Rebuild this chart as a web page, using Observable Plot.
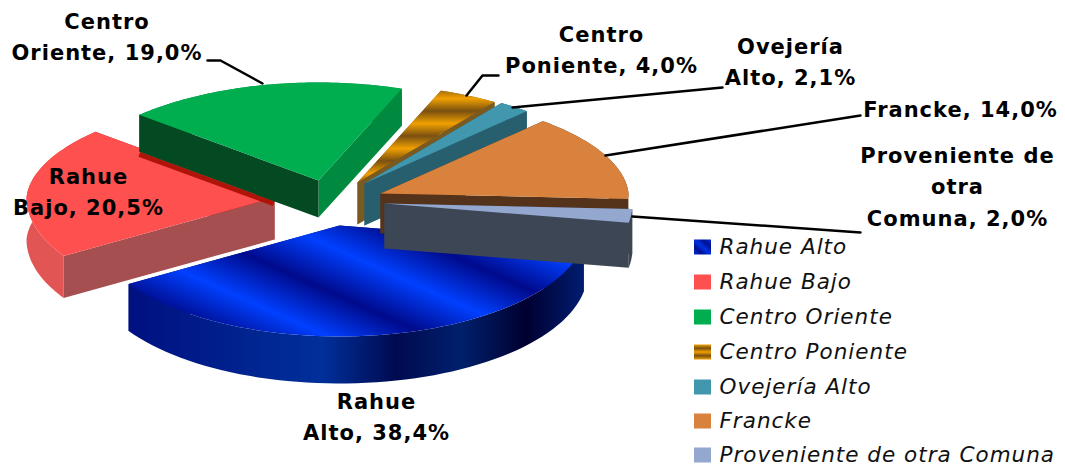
<!DOCTYPE html>
<html lang="es">
<head>
<meta charset="utf-8">
<script src="https://cdn.jsdelivr.net/npm/d3@7"></script>
<script src="https://cdn.jsdelivr.net/npm/@observablehq/plot@0.6"></script>
<style>html,body{margin:0;padding:0;background:#fff}svg{display:block}g[aria-label="text"]{letter-spacing:1px}</style>
</head>
<body>
<div id="chart"></div>
<script>
const sectores = ["Rahue Alto","Rahue Bajo","Centro Oriente","Centro Poniente","Ovejería Alto","Francke","Proveniente de otra Comuna"];
const valores = [38.4,20.5,19.0,4.0,2.1,14.0,2.0];
const colorTapa = ["url(#azulTapa)","#ff5050","#00ae50","url(#oroTapa)","#4097ae","#d9823e","#93a7cf"];
const colorBorde = ["url(#azulLado)","#e25555","#008a3f","#7a5a20","#285f6e","#55321a","#3d4654"];
const colorInicio = ["#001a80","#a54f50","#034a22","#7a5a20","#285f6e","#55321a","#3d4654"];
const colorFin = ["#001a80","#b01408","#008a3f","#7a5a20","#285f6e","#55321a","#3d4654"];
const leyendaColor = ["url(#azulLey)","#ff5050","#00ae50","url(#oroLey)","#4097ae","#d9823e","#93a7cf"];
const apiceX = [0,-65,-21,18,25,41,45];
const apiceY = [0,-28,-45,-43,-42,-32,-22];
const grosor = [47,42,37,42,42,40,45];
const etiquetas = ["Rahue\nAlto, 38,4%","Rahue\nBajo, 20,5%","Centro\nOriente, 19,0%","Centro\nPoniente, 4,0%","Ovejería\nAlto, 2,1%","Francke, 14,0%","Proveniente de\notra\nComuna, 2,0%"];
const etiquetaX = [37,-251,-232.5,262,451,621,618];
const etiquetaY = [189,-36,-190.5,-177.5,-166,-118,-41];
const guiaX = [[],[],[-132,-119,-77],[159,143,127],[173,383],[266,521],[293,521]];
const guiaY = [[],[],[-165,-165,-142],[-150,-150,-130],[-118,-138],[-70,-110],[-9,7]];
const leyendaY = [22,57,92,127,162,196,230];

const inicioGrados = 100;
const radio = (phi) => {
  const c = Math.cos(phi), s = Math.sin(phi);
  return [(248 - 10 * Math.max(0, c)) * s, -(c > 0 ? 98 : 111) * c];
};
const rad = Math.PI / 180;
const acum = d3.cumsum(valores);
const poligonos = [];
sectores.forEach((nombre, i) => {
  const a0 = (inicioGrados + (i ? acum[i - 1] : 0) * 3.6) * rad;
  const a1 = (inicioGrados + acum[i] * 3.6) * rad;
  const ax = apiceX[i], ay = apiceY[i], d = grosor[i];
  const arco = d3.range(0, 61).map((k) => {
    const [x, y] = radio(a0 + (a1 - a0) * k / 60);
    return {x: ax + x, y: ay + y};
  });
  const baja = (p) => ({x: p.x, y: p.y + d});
  const c = {x: ax, y: ay};
  const p0 = arco[0], p1 = arco[60];
  const paredes = [
    {fill: colorBorde[i], pts: [...arco, ...arco.map(baja).reverse()]},
    {fill: colorInicio[i], pts: [c, p0, baja(p0), baja(c)]},
    {fill: colorFin[i], pts: [c, p1, baja(p1), baja(c)]}
  ];
  paredes.sort((a, b) => d3.mean(a.pts, (p) => p.y) - d3.mean(b.pts, (p) => p.y));
  if (i === 2) {
    // sombra sobre Rahue Bajo, al pie de la cara izquierda de Centro Oriente
    const a = baja(p0), b = baja(c), t = 0.75;
    poligonos.push({sombra: true, pts: [
      {x: a.x, y: a.y + 2.5},
      {x: a.x + (b.x - a.x) * t, y: a.y + (b.y - a.y) * t + 2.5}
    ]});
  }
  paredes.forEach((w) => poligonos.push(w));
  poligonos.push({fill: colorTapa[i], pts: [c, ...arco]});
});

const defs = () => {
  const g = document.createElementNS("http://www.w3.org/2000/svg", "g");
  g.innerHTML = `<defs>
  <linearGradient id="azulTapa" gradientUnits="userSpaceOnUse" x1="200" y1="279" x2="234" y2="203" spreadMethod="repeat">
    <stop offset="0" stop-color="#0040ff"/><stop offset=".5" stop-color="#000a8c"/><stop offset="1" stop-color="#0040ff"/></linearGradient>
  <linearGradient id="azulLado" gradientUnits="userSpaceOnUse" x1="127" y1="0" x2="590" y2="0">
    <stop offset="0" stop-color="#001080"/><stop offset=".42" stop-color="#00309a"/><stop offset=".58" stop-color="#000a50"/>
    <stop offset=".72" stop-color="#00206c"/><stop offset=".86" stop-color="#000030"/><stop offset="1" stop-color="#002078"/></linearGradient>
  <linearGradient id="oroTapa" gradientUnits="userSpaceOnUse" x1="0" y1="98" x2="0" y2="123" spreadMethod="repeat">
    <stop offset="0" stop-color="#f0a000"/><stop offset=".5" stop-color="#7a5010"/><stop offset="1" stop-color="#f0a000"/></linearGradient>
  <linearGradient id="azulLey" x1="0" y1="1" x2="1" y2="0" spreadMethod="repeat">
    <stop offset="0" stop-color="#0030e0"/><stop offset=".25" stop-color="#001090"/><stop offset=".5" stop-color="#0030e0"/><stop offset=".75" stop-color="#001090"/><stop offset="1" stop-color="#0030e0"/></linearGradient>
  <linearGradient id="oroLey" x1="0" y1="0" x2="0" y2="1">
    <stop offset="0" stop-color="#f0a000"/><stop offset=".25" stop-color="#7a5010"/><stop offset=".5" stop-color="#f0a000"/><stop offset=".75" stop-color="#7a5010"/><stop offset="1" stop-color="#f0a000"/></linearGradient>
  </defs>`;
  return g;
};

const marcas = [defs];
const sombras = poligonos.filter((p) => p.sombra);
poligonos.filter((p) => !p.sombra).forEach((p) => {
  marcas.push(Plot.line(p.pts, {x: "x", y: "y", fill: p.fill, stroke: "none"}));
});
// la sombra va entre Rahue Bajo y la cara de Centro Oriente
const idxCaraOriente = 1 + 4 + 4;
sombras.forEach((p) => {
  marcas.splice(idxCaraOriente, 0, Plot.line(p.pts, {x: "x", y: "y", stroke: "#b01408", strokeWidth: 5, strokeLinecap: "butt"}));
});
guiaX.forEach((xs, i) => {
  if (!xs.length) return;
  const pts = xs.map((x, k) => ({x, y: guiaY[i][k]}));
  marcas.push(Plot.line(pts, {x: "x", y: "y", stroke: "#000", strokeWidth: 2.5}));
});
const fuente = "DejaVu Sans";
marcas.push(Plot.text(etiquetas, {
  x: (d, i) => etiquetaX[i], y: (d, i) => etiquetaY[i], text: (d) => d,
  fontFamily: fuente, fontWeight: "bold", fontSize: 21, lineHeight: 1.48, fill: "#000", textAnchor: "middle"
}));
const leyenda = sectores.map((s, i) => ({s, i}));
leyenda.forEach((d) => {
  marcas.push(Plot.rect([d], {x1: () => 355, x2: () => 372, y1: () => leyendaY[d.i] - 7.5, y2: () => leyendaY[d.i] + 7.5, fill: leyendaColor[d.i]}));
});
marcas.push(Plot.text(leyenda, {
  x: () => 380, y: (d) => leyendaY[d.i], text: "s", textAnchor: "start",
  fontFamily: fuente, fontStyle: "italic", fontSize: 21.5, fill: "#111"
}));

const plot = Plot.plot({
  width: 1065, height: 466,
  margin: 0,
  x: {domain: [-339, 726], range: [0, 1065], axis: null},
  y: {domain: [-225, 241], range: [0, 466], axis: null},
  style: {background: "#fff"},
  marks: marcas
});
document.getElementById("chart").append(plot);
</script>
</body>
</html>
